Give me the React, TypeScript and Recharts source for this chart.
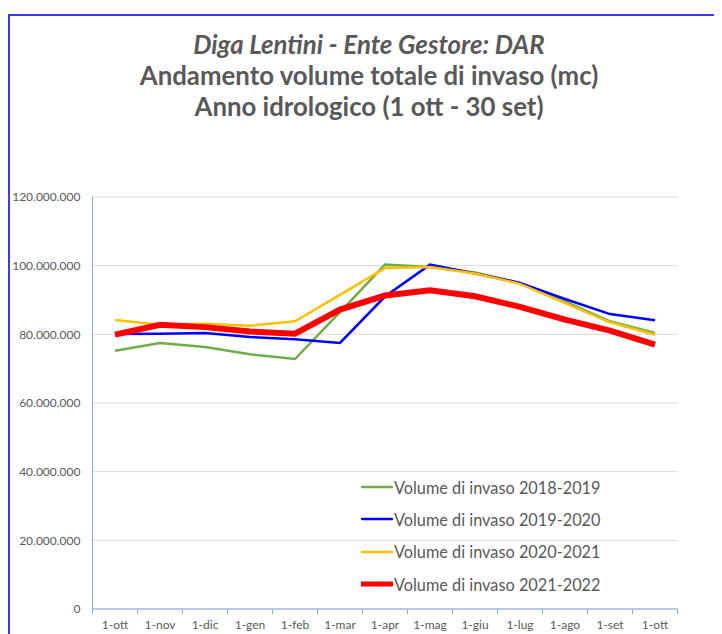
import { LineChart, Line, XAxis, YAxis, CartesianGrid, Legend } from 'recharts';

const months = ['1-ott', '1-nov', '1-dic', '1-gen', '1-feb', '1-mar', '1-apr', '1-mag', '1-giu', '1-lug', '1-ago', '1-set', '1-ott'];

// volumi in mc
const vol1819 = [75200000, 77500000, 76300000, 74200000, 72800000, 86500000, 100300000, 99600000, 98000000, 95000000, 89600000, 83800000, 80400000];
const vol1920 = [80100000, 80200000, 80400000, 79200000, 78600000, 77500000, 91000000, 100300000, 97700000, 95000000, 90300000, 85900000, 84100000];
const vol2021 = [84200000, 82800000, 83100000, 82500000, 83800000, 91500000, 99300000, 99600000, 97700000, 94700000, 89100000, 83500000, 79900000];
const vol2122 = [79900000, 82800000, 82100000, 80800000, 80200000, 87200000, 91300000, 92800000, 91100000, 88000000, 84300000, 81100000, 77000000];

const yTicks = [0, 20000000, 40000000, 60000000, 80000000, 100000000, 120000000];
const xEdges = [0, 1, 2, 3, 4, 5, 6, 7, 8, 9, 10, 11, 12, 13];

const data = months.map((m, i) => ({
  pos: i + 0.5,
  month: m,
  v1819: vol1819[i],
  v1920: vol1920[i],
  v2021: vol2021[i],
  v2122: vol2122[i],
}));

const series = [
  { key: 'v1819', name: 'Volume di invaso 2018-2019', color: '#70ad47', width: 2.5 },
  { key: 'v1920', name: 'Volume di invaso 2019-2020', color: '#0000ff', width: 2.5 },
  { key: 'v2021', name: 'Volume di invaso 2020-2021', color: '#ffc000', width: 2.5 },
  { key: 'v2122', name: 'Volume di invaso 2021-2022', color: '#ff0000', width: 6 },
];

const font = 'Lato, "Noto Sans", sans-serif';
const textColor = '#595959';

const fmt = (v: number) => String(v).replace(/\B(?=(\d{3})+(?!\d))/g, '.');

function LegendBox(props: any) {
  const items = props.payload || [];
  return (
    <div style={{ fontFamily: font, fontSize: 16.3, color: textColor }}>
      {items.map((it: any, i: number) => {
        const s = series.find((x) => x.name === it.value) || series[i];
        return (
          <div key={i} style={{ display: 'flex', alignItems: 'center', height: 32.3 }}>
            <svg width={32} height={8} style={{ marginRight: 1 }}>
              <line x1={1} x2={31} y1={4} y2={4} stroke={s.color} strokeWidth={s.width === 6 ? 5 : 2.5} strokeLinecap="round" />
            </svg>
            <span>{it.value}</span>
          </div>
        );
      })}
    </div>
  );
}

export default function App() {
  return (
    <div style={{ position: 'relative', width: 714, height: 626, background: '#fff' }}>
      <div
        style={{
          position: 'absolute',
          left: 0,
          top: 6,
          width: 714,
          height: 620,
          borderTop: '2px solid #3b3bf0',
          borderLeft: '2px solid #3b3bf0',
          boxSizing: 'border-box',
        }}
      />
      <div
        style={{
          position: 'absolute',
          left: 0,
          top: 21,
          width: 722,
          textAlign: 'center',
          fontFamily: font,
          fontWeight: 700,
          fontSize: 25.8,
          lineHeight: '31px',
          color: textColor,
        }}
      >
        <div style={{ fontStyle: 'italic' }}>Diga Lentini - Ente Gestore: DAR</div>
        <div>Andamento volume totale di invaso (mc)</div>
        <div>Anno idrologico (1 ott - 30 set)</div>
      </div>
      <div style={{ position: 'absolute', left: 0, top: 0 }}>
        <LineChart width={714} height={626} data={data} margin={{ top: 189, right: 44.5, bottom: 0, left: 0 }}>
          <CartesianGrid vertical={false} stroke="#d9d9d9" />
          <XAxis
            dataKey="pos"
            type="number"
            domain={[0, 13]}
            ticks={xEdges}
            interval={0}
            height={25}
            tickFormatter={(v: number) => months[v] || ''}
            tick={{ fill: textColor, fontSize: 12, fontFamily: font, dx: 22.5 }}
            tickSize={5}
            tickMargin={6}
            stroke="#8eaadb"
          />
          <YAxis
            domain={[0, 120000000]}
            ticks={yTicks}
            width={84.5}
            tickFormatter={fmt}
            tick={{ fill: textColor, fontSize: 12, fontFamily: font }}
            tickLine={false}
            tickSize={6}
            tickMargin={6}
            stroke="#8eaadb"
          />
          <Legend
            layout="vertical"
            align="center"
            verticalAlign="middle"
            content={<LegendBox />}
            wrapperStyle={{ left: 353, top: 463, width: 290 }}
          />
          {series.map((s) => (
            <Line
              key={s.key}
              type="linear"
              dataKey={s.key}
              name={s.name}
              stroke={s.color}
              strokeWidth={s.width}
              dot={false}
              activeDot={false}
              isAnimationActive={false}
            />
          ))}
        </LineChart>
      </div>
    </div>
  );
}
